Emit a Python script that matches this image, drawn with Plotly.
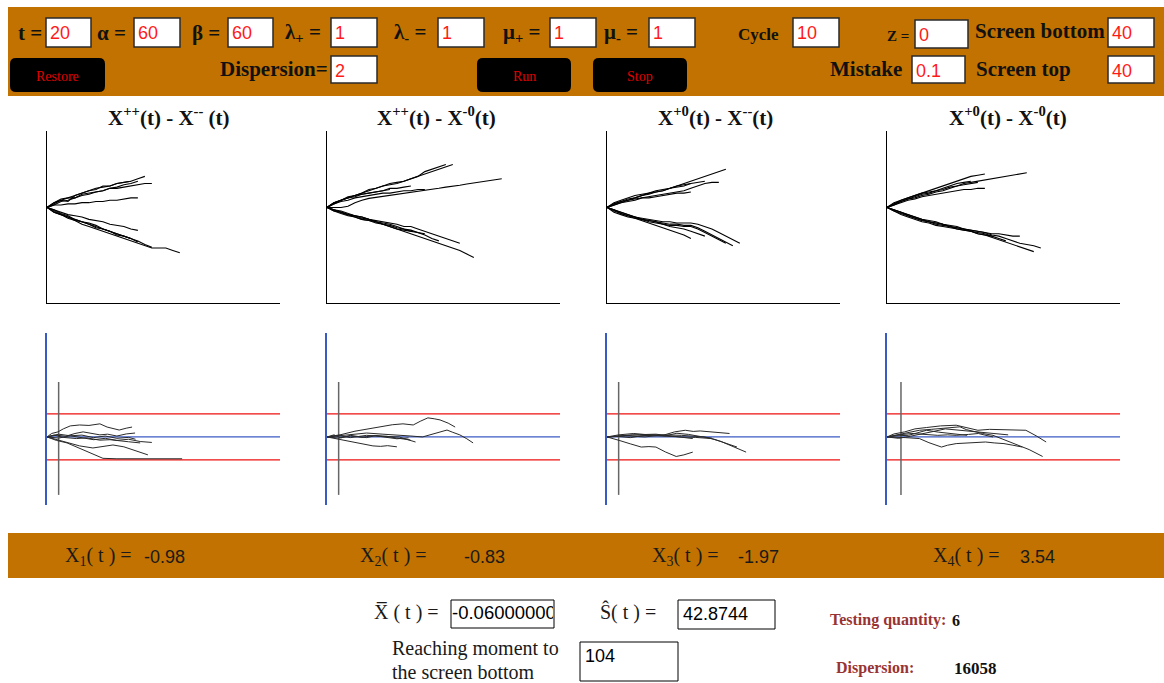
import plotly.graph_objects as go

W, H = 1164, 683

# ---------------- data ----------------
PARAM_LABELS = ["t =", "α =", "β =", "λ<sub>+</sub> =", "λ<sub>-</sub> =", "μ<sub>+</sub> =", "μ<sub>-</sub> =",
                "Cycle", "Z =", "Screen bottom", "Dispersion=", "Mistake", "Screen top"]
PARAM_VALUES = ["20", "60", "60", "1", "1", "1", "1", "10", "0", "40", "2", "0.1", "40"]
BUTTONS = ["Restore", "Run", "Stop"]

TOP_TITLES = ["X<sup>++</sup>(t) - X<sup>--</sup> (t)", "X<sup>++</sup>(t) - X<sup>-0</sup>(t)",
              "X<sup>+0</sup>(t) - X<sup>--</sup>(t)", "X<sup>+0</sup>(t) - X<sup>-0</sup>(t)"]
X_LABELS = ["X<sub>1</sub>( t ) =", "X<sub>2</sub>( t ) =", "X<sub>3</sub>( t ) =", "X<sub>4</sub>( t ) ="]
X_VALUES = ["-0.98", "-0.83", "-1.97", "3.54"]
XBAR = "-0.06000000"
SHAT = "42.8744"
REACH = "104"
TESTING_QTY = "6"
DISPERSION = "16058"

TSTEP = 3  # time step between sampled points of the top paths

top_p1 = [
    [0, 2, 3, 2.5, 5, 6, 7, 7.5, 9, 9, 10, 10.5, 11, 12, 13],
    [0, 1.5, 3, 4, 4, 5.5, 6, 6.5, 7, 8, 8, 8.5, 9, 9.5, 10, 10],
    [0, 1, 1, 1.5, 1.5, 2, 2, 2.5, 2.5, 3, 3, 3.5, 4, 4],
    [0, 2, 3.5, 4, 5, 6, 7, 8, 8.5, 9, 10, 10.5, 11],
    [0, 1, 2.5, 3, 4, 5, 5.5, 6.5, 7, 8, 8.5, 9.5, 10, 11],
    [0, -1, -2, -3, -3.5, -4, -5, -5.5, -6, -7, -7.5, -8, -9, -9.6],
    [0, -1.5, -3, -4, -5, -6, -7, -8, -9, -10, -11, -12, -13, -14, -15.5, -16.7],
    [0, -2, -3, -4.5, -5.5, -7, -8, -9, -10, -11, -12, -13, -14, -15, -16, -17, -17, -17, -18, -19],
    [0, -1, -2.5, -3.5, -5, -6, -6.5, -7.5, -9, -10, -11, -12, -13, -14.5],
    [0, -2, -3, -4, -5.5, -6, -7, -8.5, -9, -10, -11.5, -12, -13],
]
top_p2 = [
    [0, 2, 3, 4, 5, 6, 7, 8, 9, 9.5, 10, 11, 12, 13, 15, 16, 17, 18],
    [0, 1.5, 3, 4.5, 5, 6, 7.5, 8, 9, 10, 10.5, 11, 12, 13, 14, 15, 16, 17, 18],
    [0, 2, 3, 4, 4.5, 5.5, 6, 6.5, 7, 8, 8, 8.5, 9],
    [0, 1.5, 2.5, 3, 4, 4.5, 5, 5.5, 6, 6, 6.5, 7, 7, 7.5, 7.5],
    [0, 0, 0, 0.5, 2, 3, 3.8, 4.2, 4.6, 5, 5.5, 6, 6.3, 6.8, 7.2, 7.5, 8, 8.5, 8.8, 9.3, 9.8, 10.2, 10.8, 11.2, 11.6, 12],
    [0, 2, 3, 4, 5, 5.5, 6, 6.5, 7, 7.5],
    [0, -1, -2, -3, -3.5, -4, -5, -5.5, -6, -6.5, -7, -8, -8, -9, -10, -11, -12, -13, -14, -15],
    [0, -1.5, -2.5, -3.5, -4, -5, -5.5, -6.5, -7, -8, -9, -10, -11, -12, -13, -14, -15, -16, -17, -18, -19.5, -21],
    [0, -1, -2, -3, -3.5, -4.5, -5, -6, -7, -7.5, -8.5, -9, -10],
    [0, -1.5, -2, -3, -4, -5, -5.5, -6, -7, -8, -9, -9.5, -10, -10.5, -11],
    [0, -1, -1.5, -2.5, -3.5, -4, -5, -6, -6.5, -7, -8, -9, -9.5, -10.5, -11.5, -13, -14],
]
top_p3 = [
    [0, 1.5, 2.5, 3.5, 4, 5, 5.5, 6.5, 7, 8, 9, 10, 11, 12, 13, 14, 15, 16],
    [0, 1, 2, 3, 3.5, 4, 4.5, 5, 5.5, 6, 6.5, 7, 8, 9, 10, 10.5, 10.5],
    [0, 2, 3, 4, 5, 5.5, 6, 7, 7.5, 8, 9, 9.5, 10],
    [0, 1, 2, 2.5, 3, 4, 4, 4.5, 5, 5.5, 6, 6, 6.5],
    [0, 1.5, 2.5, 3, 4, 5, 6, 6.5, 7, 8, 8.5, 9, 10, 10.5, 11],
    [0, -1, -2, -3, -4, -4.5, -5, -5.5, -6, -6, -6.5, -6.5, -6.5, -7, -8, -9, -10.5, -12, -13.5, -15],
    [0, -1.5, -2.5, -3.5, -4, -5, -5.5, -6, -6.5, -7, -7, -7.5, -7.5, -8.5, -10, -11.5, -13, -14.5, -16],
    [0, -1, -2.5, -3.5, -4.5, -5.5, -6.5, -7.5, -8.5, -9.5, -10.5, -11.5, -13],
    [0, -2, -3, -4, -4.5, -5, -6, -6.5, -7, -7.5, -7.5, -8, -8, -9, -10.5, -12, -13.5, -15],
    [0, -1, -2, -3, -4, -5, -5.5, -6, -7, -8, -8.5, -9, -10, -11, -12],
]
top_p4 = [
    [0, 1.5, 2.5, 3.5, 4.5, 5.5, 6, 7, 7.5, 8.5, 9, 10, 10.5, 11, 11.5, 12, 12.5, 13, 13.5, 14, 14.5],
    [0, 1.5, 3, 4, 5, 6, 7, 8, 9, 10, 11, 12, 13, 13.5, 14],
    [0, 1, 2, 3, 3.5, 4.5, 5, 5.5, 6, 6.5, 7, 7.5, 7.5, 8, 8],
    [0, 2, 3, 4, 5, 6, 6.5, 7, 8, 9, 10, 10.5, 11],
    [0, 1, 2.5, 3.5, 4, 5, 5.5, 6.5, 7, 8, 9, 9.5, 10, 10.5],
    [0, -1, -2, -3, -4, -5, -5.5, -6, -7, -7.5, -8, -9, -9.5, -10, -10.5, -11.5, -12, -13, -14, -15, -15.5, -16, -17],
    [0, -1.5, -2.5, -3.5, -4.5, -5.5, -6, -7, -7.5, -8, -8.5, -9, -10, -11, -11.5, -12.5, -13.5, -14.5, -15.5, -16.5, -17.5, -18.5],
    [0, -1, -2, -3, -4, -5, -6, -6.5, -7, -8, -8.5, -9, -9.5, -10, -10.5, -11, -11, -11.5, -12, -12],
    [0, -1.5, -3, -4, -5, -6, -6.5, -7.5, -8, -8.5, -9, -9.5, -10, -10.5, -11, -12],
    [0, -1, -2, -3.5, -4.5, -5.5, -6, -6.5, -7, -8, -9, -9.5, -10, -11, -11.5, -12, -13, -14],
]

bot_p1 = [
    ([0, 2, 4.7, 7, 10, 14, 18, 22.7, 25.8, 28, 31, 34, 36.5], [0, 1.5, 2.2, 3.5, 4.8, 5.2, 5, 5.7, 4.3, 3.8, 3, 3.8, 4.3]),
    ([0, 4, 8, 12, 15.5, 19, 22.7, 26, 30, 34, 37.8], [0, 0.8, 0.3, 1.5, 2.2, 1.6, 0.9, 1.2, 0.4, 1.3, 1.7]),
    ([0, 3, 7, 12.6, 17, 22.7, 27, 31, 35, 40], [0, 0.8, -0.2, -0.7, -0.4, -1.4, -1.2, -1.8, -2.1, -2.6]),
    ([0, 4.7, 9, 14, 19.7, 24, 28.3, 33, 37, 40, 43.3], [0, -1.3, -2.6, -3.9, -4.8, -4.1, -3.5, -4.3, -5.6, -6.5, -7.8]),
    ([0, 4, 8.6, 13, 17, 21, 24, 30, 40, 50, 58], [0, -1.5, -2.6, -4.5, -6.5, -8, -9.3, -9.5, -9.5, -9.5, -9.5]),
    ([0, 5, 10, 15, 20, 25, 30, 35, 38], [0, 1.2, 0.5, 0.8, -0.3, 0.4, -0.6, -0.2, -1]),
    ([0, 5, 10, 15, 20, 25, 30, 35, 40, 45], [0, -0.5, 0.5, -0.3, -1.2, -0.6, -1.5, -1.0, -2.0, -2.4]),
]
bot_p2 = [
    ([0, 6, 12, 18, 23, 28, 32.6, 37, 40, 43.3, 46, 48.5, 52, 55], [0, 1, 2.5, 3.5, 4.5, 5.3, 5.7, 5.2, 6.8, 8.3, 7.9, 7.4, 6, 4.3]),
    ([0, 5, 10, 17, 24, 31, 36, 41, 46, 51.5, 54, 57, 60, 62.7], [0, 0.5, 1.2, 1.7, 1.2, 0.9, 0.4, 0, 1.5, 3, 2, 0.9, -0.8, -2.6]),
    ([0, 4, 9, 14, 17, 19.7, 23, 26, 30], [0, -0.8, -1.6, -2.6, -3.3, -3.9, -4.1, -3.8, -4.3]),
    ([0, 5, 10, 17, 24, 31, 34, 38], [0, 0.6, -0.3, 0.7, 0.2, 0, -1, -2.2]),
    ([0, 3, 6, 10, 14, 17, 21, 25.7, 30, 35.8], [0, 0.9, -0.4, 0.7, 0.1, -0.3, 0.6, 0.3, -0.5, -1.3]),
    ([0, 5, 10, 15, 20, 25, 30, 35], [0, -0.5, 0.4, -0.2, 0.6, 0, -0.8, -0.4]),
]
bot_p3 = [
    ([0, 5, 11.5, 17, 24, 29, 33.6, 37, 40, 46, 52.6], [0, 0.9, 1.5, 1.0, 0.7, 2.2, 2.9, 2.4, 2.6, 2.0, 1.5]),
    ([0, 6, 11, 16.3, 24, 32, 38, 44.7, 49, 52.6, 56, 59.7], [0, 0.4, 0.9, 0.7, 0.2, 0, -0.2, -0.7, -2, -3.6, -5, -6.6]),
    ([0, 2.5, 5.2, 10, 14.7, 18, 21, 25, 29.7, 33, 36.8], [0, -0.6, -1.5, -3, -4.4, -4.2, -4.4, -6.5, -8.5, -7.8, -6.6]),
    ([0, 8, 16.3, 24, 32, 37, 41.5, 46, 49.4, 53, 55.8], [0, 0.5, 0, 0.9, 0.7, 0.3, 0, -1, -2.2, -3.2, -4.4]),
    ([0, 4, 8.4, 14, 21, 26, 30.5, 34, 36.8], [0, 0.3, 0.7, 1.0, 1.2, 0.6, 0, -0.2, -0.7]),
    ([0, 5, 10, 15, 20, 25, 30, 35, 40, 45], [0, 0.2, -0.3, 0.5, 0.9, 0.5, 1.6, 1.1, 0.2, -0.5]),
]
bot_p4 = [
    ([0, 3, 7.6, 12, 17, 23, 29.7, 34, 39, 44, 50, 55, 59.6, 64, 68.3], [0, 1.3, 2.2, 3.5, 4.1, 4.8, 5.1, 4.2, 2.9, 3.3, 3.2, 3.3, 2.9, 0.5, -2.2]),
    ([0, 7, 13.9, 19, 23.4, 27, 31.3, 34, 37.6, 41, 45.5, 50, 55, 61, 66.8], [0, 1.5, 2.9, 3.3, 3.6, 4.0, 4.4, 3.2, 2.2, 1.5, 0.7, -1, -2.9, -5.5, -8.5]),
    ([0, 2.8, 8, 13.9, 18, 23.4, 26, 29.7, 36, 42.3, 46, 50.2, 54, 58.1], [0, 0, -0.3, -0.7, -2.5, -4.4, -3.6, -2.9, -2.5, -2.2, -2.6, -2.9, -3.6, -4.4]),
    ([0, 5, 10.7, 16, 21.8, 26, 29.7, 35, 39.2, 42, 45.5], [0, 0.9, 1.5, 1.1, 0.7, 0.9, 0.7, 1.1, 1.5, 0.8, 0]),
    ([0, 4, 9.2, 13, 17, 22, 26.5, 30, 34.4], [0, 0.5, 0.7, 1.8, 2.9, 2.1, 1.5, 1.1, 0.7]),
    ([0, 5, 10, 15, 20, 25, 30, 35, 40, 46, 52], [0, -0.6, 0.3, 1.2, 2.4, 3.5, 3.0, 2.8, 2.2, 1.6, 0.9]),
]
SCREEN_LEVELS = [10, -10]
CENTER_LEVEL = 0
GRAY_T = [5, 5, 5, 6]

TOP_PATHS = [top_p1, top_p2, top_p3, top_p4]
BOT_PATHS = [bot_p1, bot_p2, bot_p3, bot_p4]

# ---------------- helpers ----------------
ORANGE = "#C17200"
RED = "#EE1111"
BLUE = "#3B5BC4"
DARKRED = "#993333"
SERIF = "Liberation Serif, Times New Roman, serif"
SANS = "Liberation Sans, Arial, sans-serif"


def px(x):
    return x / W


def py(y):
    return 1 - y / H


shapes = []
annotations = []


def rect(x0, y0, x1, y1, fill, line="rgba(0,0,0,0)", lw=0):
    shapes.append(dict(type="rect", xref="paper", yref="paper", x0=px(x0), x1=px(x1), y0=py(y1), y1=py(y0),
                       fillcolor=fill, line=dict(color=line, width=lw), layer="below"))


def rounded(x0, y0, x1, y1, r, fill):
    def p(x, y):
        return f"{px(x):.5f},{py(y):.5f}"
    d = (f"M {p(x0 + r, y0)} L {p(x1 - r, y0)} Q {p(x1, y0)} {p(x1, y0 + r)} L {p(x1, y1 - r)} "
         f"Q {p(x1, y1)} {p(x1 - r, y1)} L {p(x0 + r, y1)} Q {p(x0, y1)} {p(x0, y1 - r)} "
         f"L {p(x0, y0 + r)} Q {p(x0, y0)} {p(x0 + r, y0)} Z")
    shapes.append(dict(type="path", xref="paper", yref="paper", path=d, fillcolor=fill,
                       line=dict(color=fill, width=0), layer="below"))


def text(x, y, s, size, color="#111", family=SERIF, anchor="left"):
    annotations.append(dict(xref="paper", yref="paper", x=px(x), y=py(y), text=s, showarrow=False,
                            xanchor=anchor, yanchor="middle", align=anchor if anchor != "center" else "center",
                            font=dict(size=size, color=color, family=family)))


# ---------------- control bar ----------------
rect(8, 7, 1164, 96, ORANGE)
rect(8, 533, 1164, 578, ORANGE)

# label right-edge x, label y, font size, box x0, y0, x1, y1
PARAM_POS = [
    (44, 33, 21, 46, 18, 91, 47), (128, 33, 21, 134, 18, 180, 47), (222, 33, 21, 228, 18, 273, 47),
    (323, 33, 21, 331, 18, 377, 47), (428, 33, 21, 438, 18, 484, 47), (543, 33, 21, 550, 18, 596, 47),
    (640, 33, 21, 649, 18, 695, 47), (781, 34, 17, 793, 18, 839, 47), (911, 36, 15, 915, 20, 968, 48),
    (1107, 31, 21, 1108, 18, 1154, 47), (330, 69, 21, 331, 56, 377, 83), (904, 69, 21, 912, 56, 965, 83),
    (1073, 69, 21, 1108, 56, 1154, 83),
]
for lab, val, (lx, ly, fs, bx0, by0, bx1, by1) in zip(PARAM_LABELS, PARAM_VALUES, PARAM_POS):
    text(lx, ly, f"<b>{lab}</b>", fs, anchor="right")
    rect(bx0, by0, bx1, by1, "white", "#2a2a2a", 1.5)
    text(bx0 + 2, (by0 + by1) / 2 + 1, val, 18, color="#FF1A1A", family=SANS)

BUTTON_POS = [(10, 58, 105, 92), (477, 58, 571, 92), (593, 58, 687, 92)]
for lab, (x0, y0, x1, y1) in zip(BUTTONS, BUTTON_POS):
    rounded(x0, y0, x1, y1, 6, "black")
    text((x0 + x1) / 2, (y0 + y1) / 2 + 1, lab, 14, color="#E00000", anchor="center")

# ---------------- panels ----------------
fig = go.Figure()
PANEL_X0 = [47, 327, 607, 887]
PANEL_W = 233
TITLE_LEFT = [106, 375, 656, 947]
axis_common = dict(showgrid=False, zeroline=False, showticklabels=False, ticks="", fixedrange=True)
layout_axes = {}
for i in range(4):
    xd = [px(PANEL_X0[i]), px(PANEL_X0[i] + PANEL_W)]
    # top
    n = i + 1
    sx = "" if n == 1 else str(n)
    layout_axes[f"xaxis{sx}"] = dict(domain=xd, range=[0, 100], anchor=f"y{sx}", showline=True,
                                     linecolor="black", linewidth=1, **axis_common)
    layout_axes[f"yaxis{sx}"] = dict(domain=[py(303), py(131)], range=[-40, 32], anchor=f"x{sx}",
                                     showline=True, linecolor="black", linewidth=1, **axis_common)
    for path in TOP_PATHS[i]:
        fig.add_trace(go.Scatter(x=[k * TSTEP for k in range(len(path))], y=path, mode="lines",
                                 line=dict(color="black", width=1.1), xaxis=f"x{sx}", yaxis=f"y{sx}",
                                 hoverinfo="skip", showlegend=False))
    text(TITLE_LEFT[i], 116, f"<b>{TOP_TITLES[i]}</b>", 21, color="#111")

    # bottom
    m = i + 5
    layout_axes[f"xaxis{m}"] = dict(domain=xd, range=[0, 100], anchor=f"y{m}", showline=False, **axis_common)
    layout_axes[f"yaxis{m}"] = dict(domain=[py(505), py(333)], range=[-29.6, 45.2], anchor=f"x{m}",
                                    showline=True, linecolor=BLUE, linewidth=1.5, **axis_common)
    for lv in SCREEN_LEVELS:
        shapes.append(dict(type="line", xref=f"x{m}", yref=f"y{m}", x0=0, x1=100, y0=lv, y1=lv,
                           line=dict(color=RED, width=1.3), layer="below"))
    shapes.append(dict(type="line", xref=f"x{m}", yref=f"y{m}", x0=0, x1=100, y0=CENTER_LEVEL, y1=CENTER_LEVEL,
                       line=dict(color=BLUE, width=1.3), layer="below"))
    shapes.append(dict(type="line", xref=f"x{m}", yref=f"y{m}", x0=GRAY_T[i], x1=GRAY_T[i], y0=-25.2, y1=23.9,
                       line=dict(color="#666666", width=1.5), layer="below"))
    for xs, ys in BOT_PATHS[i]:
        fig.add_trace(go.Scatter(x=xs, y=ys, mode="lines", line=dict(color="#2a2a2a", width=1),
                                 xaxis=f"x{m}", yaxis=f"y{m}", hoverinfo="skip", showlegend=False))

# ---------------- results ----------------
X_LAB_POS = [63, 358, 650, 931]
X_VAL_POS = [142, 462, 736, 1018]
for lab, val, lx, vx in zip(X_LABELS, X_VALUES, X_LAB_POS, X_VAL_POS):
    text(lx, 556, lab, 20, color="#1a1a1a")
    text(vx, 557, val, 18, color="#1a1a1a", family=SANS)

text(372, 612, "X\u0305 ( t ) =", 20, color="#1a1a1a")
rect(451, 600, 554, 628, "white", "black", 1)
layout_axes["xaxis9"] = dict(domain=[px(452), px(553)], range=[0, 1], anchor="y9", showline=False, **axis_common)
layout_axes["yaxis9"] = dict(domain=[py(627), py(601)], range=[0, 1], anchor="x9", showline=False, **axis_common)
fig.add_trace(go.Scatter(x=[0], y=[0.5], mode="text", text=[XBAR], textposition="middle right",
                         textfont=dict(size=18.5, color="black", family=SANS), cliponaxis=True,
                         xaxis="x9", yaxis="y9", hoverinfo="skip", showlegend=False))

text(598, 612, "Ŝ( t ) =", 20, color="#1a1a1a")
rect(678, 600, 775, 629, "white", "black", 1)
text(681, 614, SHAT, 18, color="black", family=SANS)

text(390, 648, "Reaching moment to", 20, color="#1a1a1a")
text(390, 672, "the screen bottom", 20, color="#1a1a1a")
rect(580, 642, 678, 681, "white", "black", 1)
text(583, 656, REACH, 18, color="black", family=SANS)

text(828, 620, "<b>Testing quantity:</b>", 16, color=DARKRED)
text(950, 620, f"<b>{TESTING_QTY}</b>", 16, color="#111")
text(834, 668, "<b>Dispersion:</b>", 16, color=DARKRED)
text(952, 668, f"<b>{DISPERSION}</b>", 17, color="#111")

fig.update_layout(width=W, height=H, margin=dict(l=0, r=0, t=0, b=0), paper_bgcolor="white",
                  plot_bgcolor="rgba(0,0,0,0)", shapes=shapes, annotations=annotations,
                  hovermode=False, showlegend=False, **layout_axes)
fig.write_html("out.html", config={"displayModeBar": False},
               post_script="document.body.style.margin='0';document.body.style.overflow='hidden';")
